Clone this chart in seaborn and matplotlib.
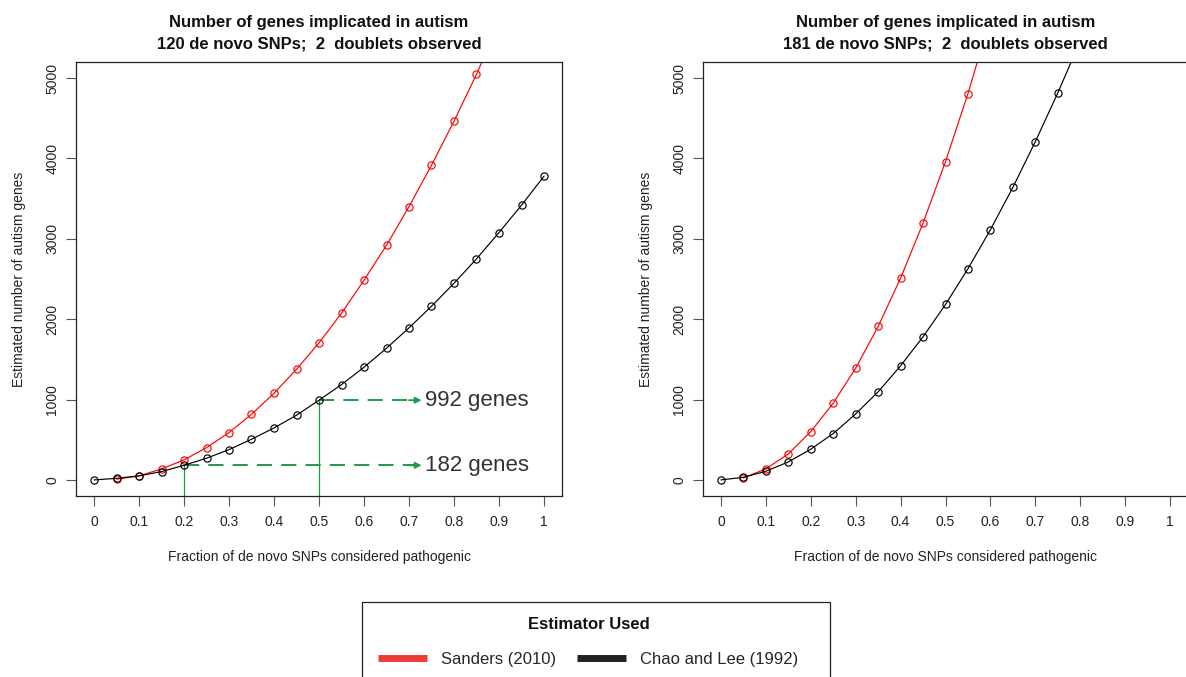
import matplotlib
matplotlib.use("Agg")
import matplotlib.pyplot as plt
from matplotlib.lines import Line2D
from matplotlib.patches import Rectangle
import numpy as np
import pandas as pd
import seaborn as sns

# Fraction of de novo SNPs considered pathogenic
fraction = [0.0, 0.05, 0.1, 0.15, 0.2, 0.25, 0.3, 0.35, 0.4, 0.45, 0.5,
            0.55, 0.6, 0.65, 0.7, 0.75, 0.8, 0.85, 0.9, 0.95, 1.0]

# 120 de novo SNPs, 2 doublets observed
sanders_120 = [np.nan, 10, 50, 137, 249, 402, 589, 817, 1078, 1377, 1705,
               2074, 2485, 2920, 3401, 3916, 4463, 5048, 5675, 6340, 7045]
chao_120 = [0, 20, 50, 104, 182, 270, 377, 506, 647, 805, 992,
            1186, 1402, 1639, 1892, 2161, 2447, 2750, 3078, 3418, 3779]

# 181 de novo SNPs, 2 doublets observed
sanders_181 = [np.nan, 25, 137, 324, 602, 955, 1391, 1909, 2511, 3196, 3960,
               4807, 5750, 6760, 7850, 9020, 10270, 11600, 13000, 14480, 16040]
chao_181 = [0, 33, 108, 224, 382, 577, 822, 1096, 1420, 1781, 2183,
            2628, 3113, 3640, 4209, 4815, 5460, 6145, 6870, 7635, 8440]

# Highlighted estimates on the 120-SNP panel
callout_fraction = [0.2, 0.5]
callout_genes = [182, 992]

x_ticks = [0, 0.1, 0.2, 0.3, 0.4, 0.5, 0.6, 0.7, 0.8, 0.9, 1.0]
x_tick_labels = ["0", "0.1", "0.2", "0.3", "0.4", "0.5", "0.6", "0.7", "0.8", "0.9", "1"]
y_ticks = [0, 1000, 2000, 3000, 4000, 5000]

estimators = ["Sanders (2010)", "Chao and Lee (1992)"]
palette = {"Sanders (2010)": "#ff0000", "Chao and Lee (1992)": "#000000"}
legend_colors = {"Sanders (2010)": "#ec3b36", "Chao and Lee (1992)": "#222222"}
GREEN = "#1f9a48"

W, H = 1186, 677

sns.set_theme(style="ticks")
plt.rcParams["font.family"] = ["Liberation Sans", "DejaVu Sans"]

fig = plt.figure(figsize=(W / 100, H / 100), dpi=100)
ax_l = fig.add_axes([76 / W, 1 - 496 / H, 486 / W, 434 / H])
ax_r = fig.add_axes([703 / W, 1 - 496 / H, 485 / W, 434 / H])


def long_frame(sanders, chao):
    return pd.concat([
        pd.DataFrame({"fraction": fraction, "genes": sanders, "estimator": estimators[0]}),
        pd.DataFrame({"fraction": fraction, "genes": chao, "estimator": estimators[1]}),
    ]).dropna()


def draw_panel(ax, df, n_snps):
    for est in estimators:
        sub = df[df["estimator"] == est]
        sns.lineplot(data=sub, x="fraction", y="genes", ax=ax, color=palette[est],
                     linewidth=0.85, marker="o", markersize=5.2,
                     markerfacecolor="none", markeredgecolor=palette[est],
                     markeredgewidth=0.85, legend=False, sort=False)
    ax.set_xlim(-0.04, 1.04)
    ax.set_ylim(-200, 5200)
    ax.set_xticks(x_ticks)
    ax.set_xticklabels(x_tick_labels)
    ax.set_yticks(y_ticks)
    ax.set_yticklabels([str(v) for v in y_ticks], rotation=90, va="center")
    ax.tick_params(axis="both", direction="out", length=7, width=0.8,
                   labelsize=10, colors="#555555", labelcolor="#222222")
    ax.tick_params(axis="x", pad=7)
    ax.tick_params(axis="y", pad=5)
    for s in ax.spines.values():
        s.set_visible(True)
        s.set_linewidth(0.9)
        s.set_color("#222222")
    ax.set_xlabel("Fraction of de novo SNPs considered pathogenic", fontsize=10,
                  labelpad=15, color="#222222")
    ax.set_ylabel("Estimated number of autism genes", fontsize=10,
                  labelpad=14, color="#222222")
    ax.set_title(f"Number of genes implicated in autism\n{n_snps} de novo SNPs;  2  doublets observed",
                 fontsize=12, fontweight="bold", pad=10, linespacing=1.5,
                 color="#111111")


draw_panel(ax_l, long_frame(sanders_120, chao_120), 120)
draw_panel(ax_r, long_frame(sanders_181, chao_181), 181)

# Callouts: drop lines to the curve and dashed arrows to the labels
for fx, g in zip(callout_fraction, callout_genes):
    ax_l.vlines(fx, -200, g, color=GREEN, linewidth=0.9, zorder=1)
    ax_l.plot([fx, 0.715], [g, g], color=GREEN, linewidth=1.4,
              dashes=(7.8, 4.7), zorder=1)
    ax_l.annotate("", xy=(0.728, g), xytext=(0.70, g),
                  arrowprops=dict(arrowstyle="-|>", color=GREEN, lw=1.3,
                                  mutation_scale=9, shrinkA=0, shrinkB=0))
    ax_l.text(0.735, g, f"{g} genes", fontsize=16, color="#333333",
              va="center", ha="left")

# Legend box (runs off the bottom edge of the figure)
fig.add_artist(Rectangle((362 / W, -0.05), (830 - 362) / W, 1 - 602 / H + 0.05,
                         transform=fig.transFigure, facecolor="none",
                         edgecolor="#222222", linewidth=0.9))

handles = [Line2D([], [], color=legend_colors[e], linewidth=5,
                  solid_capstyle="butt") for e in estimators]
leg = fig.legend(handles, estimators, loc="upper center",
                 bbox_to_anchor=(588.5 / W, 1 - 617 / H), ncol=2,
                 title="Estimator Used", fontsize=12, frameon=False,
                 handlelength=2.94, columnspacing=1.26, borderpad=0,
                 handletextpad=0.84, borderaxespad=0)
leg.get_title().set_fontweight("bold")
leg.get_title().set_fontsize(12)
leg.get_title().set_color("#111111")
leg._legend_box.sep = 14.5

fig.savefig("out.png", dpi=100)
